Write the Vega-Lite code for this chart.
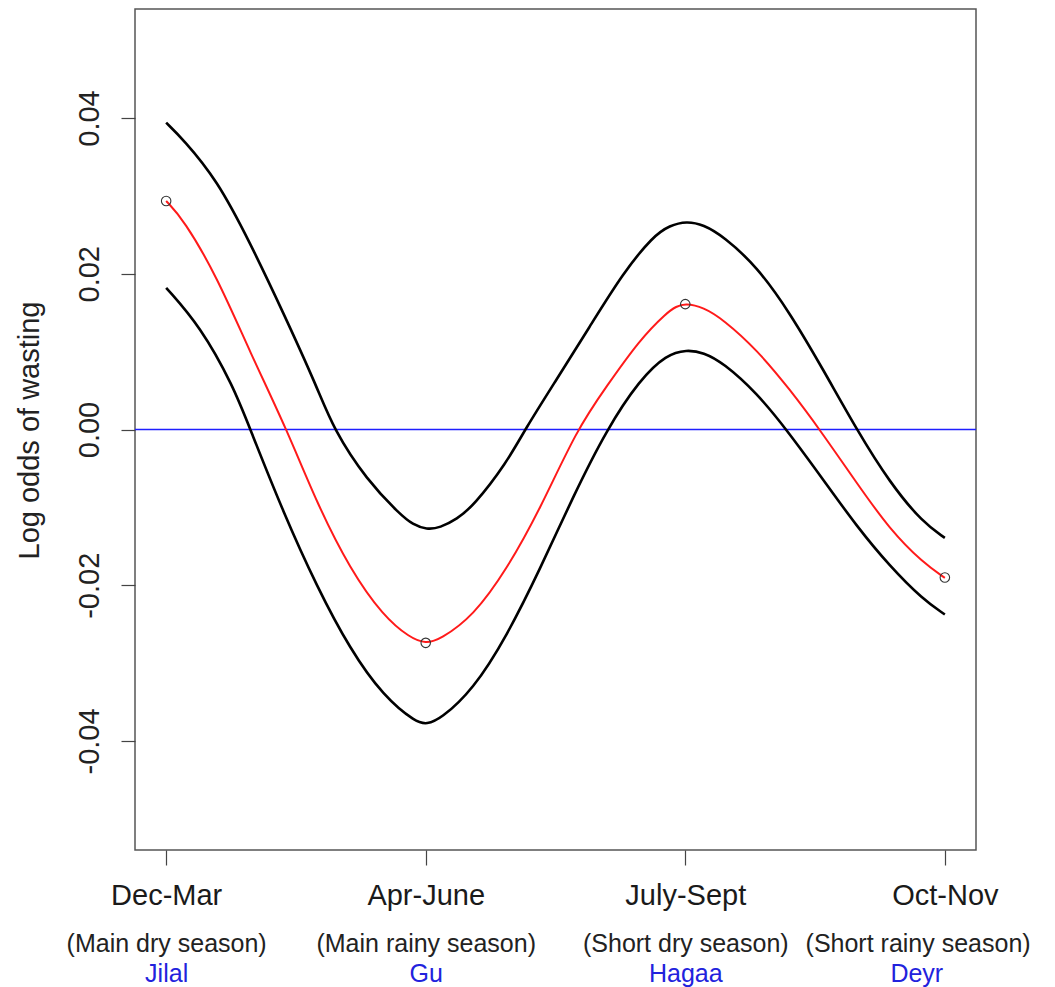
{
  "$schema": "https://vega.github.io/schema/vega-lite/v6.json",
  "width": 841,
  "height": 841,
  "autosize": {"type": "none"},
  "padding": {"left": 135, "top": 9, "right": 79, "bottom": 137},
  "background": "white",
  "config": {"view": {"stroke": "#555", "strokeWidth": 1.5}, "font": "Liberation Sans"},
  "datasets": {
    "curves": [
      {"x": 1.000, "v": 0.0394, "band": "upper"},
      {"x": 1.066, "v": 0.03725, "band": "upper"},
      {"x": 1.195, "v": 0.03211, "band": "upper"},
      {"x": 1.323, "v": 0.02402, "band": "upper"},
      {"x": 1.451, "v": 0.01503, "band": "upper"},
      {"x": 1.580, "v": 0.00556, "band": "upper"},
      {"x": 1.645, "v": 0.0, "band": "upper"},
      {"x": 1.773, "v": -0.0065, "band": "upper"},
      {"x": 1.901, "v": -0.0109, "band": "upper"},
      {"x": 1.950, "v": -0.0122, "band": "upper"},
      {"x": 2.004, "v": -0.01285, "band": "upper"},
      {"x": 2.055, "v": -0.01262, "band": "upper"},
      {"x": 2.120, "v": -0.0115, "band": "upper"},
      {"x": 2.183, "v": -0.00985, "band": "upper"},
      {"x": 2.312, "v": -0.00428, "band": "upper"},
      {"x": 2.382, "v": 0.0, "band": "upper"},
      {"x": 2.504, "v": 0.00642, "band": "upper"},
      {"x": 2.633, "v": 0.01327, "band": "upper"},
      {"x": 2.761, "v": 0.02013, "band": "upper"},
      {"x": 2.876, "v": 0.02483, "band": "upper"},
      {"x": 2.940, "v": 0.0262, "band": "upper"},
      {"x": 3.005, "v": 0.02676, "band": "upper"},
      {"x": 3.070, "v": 0.0263, "band": "upper"},
      {"x": 3.146, "v": 0.02483, "band": "upper"},
      {"x": 3.275, "v": 0.02098, "band": "upper"},
      {"x": 3.403, "v": 0.01499, "band": "upper"},
      {"x": 3.531, "v": 0.00771, "band": "upper"},
      {"x": 3.660, "v": 0.0, "band": "upper"},
      {"x": 3.788, "v": -0.00685, "band": "upper"},
      {"x": 3.916, "v": -0.01199, "band": "upper"},
      {"x": 4.000, "v": -0.01391, "band": "upper"},
      {"x": 1.000, "v": 0.0182, "band": "lower"},
      {"x": 1.131, "v": 0.01327, "band": "lower"},
      {"x": 1.259, "v": 0.00556, "band": "lower"},
      {"x": 1.324, "v": 0.0, "band": "lower"},
      {"x": 1.452, "v": -0.0107, "band": "lower"},
      {"x": 1.580, "v": -0.02013, "band": "lower"},
      {"x": 1.709, "v": -0.02826, "band": "lower"},
      {"x": 1.837, "v": -0.03426, "band": "lower"},
      {"x": 1.965, "v": -0.03768, "band": "lower"},
      {"x": 2.004, "v": -0.03782, "band": "lower"},
      {"x": 2.055, "v": -0.03725, "band": "lower"},
      {"x": 2.183, "v": -0.0334, "band": "lower"},
      {"x": 2.312, "v": -0.02655, "band": "lower"},
      {"x": 2.440, "v": -0.01798, "band": "lower"},
      {"x": 2.568, "v": -0.00857, "band": "lower"},
      {"x": 2.697, "v": 0.0, "band": "lower"},
      {"x": 2.825, "v": 0.00642, "band": "lower"},
      {"x": 2.928, "v": 0.00963, "band": "lower"},
      {"x": 3.005, "v": 0.01025, "band": "lower"},
      {"x": 3.070, "v": 0.0099, "band": "lower"},
      {"x": 3.146, "v": 0.00857, "band": "lower"},
      {"x": 3.275, "v": 0.00471, "band": "lower"},
      {"x": 3.390, "v": 0.0, "band": "lower"},
      {"x": 3.531, "v": -0.00642, "band": "lower"},
      {"x": 3.660, "v": -0.01242, "band": "lower"},
      {"x": 3.788, "v": -0.01756, "band": "lower"},
      {"x": 3.916, "v": -0.02184, "band": "lower"},
      {"x": 4.000, "v": -0.02376, "band": "lower"},
      {"x": 1.000, "v": 0.02935, "band": "est"},
      {"x": 1.067, "v": 0.02697, "band": "est"},
      {"x": 1.195, "v": 0.01969, "band": "est"},
      {"x": 1.324, "v": 0.00985, "band": "est"},
      {"x": 1.465, "v": 0.0, "band": "est"},
      {"x": 1.580, "v": -0.00942, "band": "est"},
      {"x": 1.709, "v": -0.01798, "band": "est"},
      {"x": 1.837, "v": -0.02398, "band": "est"},
      {"x": 1.940, "v": -0.02676, "band": "est"},
      {"x": 2.000, "v": -0.0275, "band": "est"},
      {"x": 2.055, "v": -0.02697, "band": "est"},
      {"x": 2.183, "v": -0.02398, "band": "est"},
      {"x": 2.312, "v": -0.01798, "band": "est"},
      {"x": 2.440, "v": -0.01028, "band": "est"},
      {"x": 2.582, "v": 0.0, "band": "est"},
      {"x": 2.697, "v": 0.00556, "band": "est"},
      {"x": 2.825, "v": 0.01156, "band": "est"},
      {"x": 2.928, "v": 0.01499, "band": "est"},
      {"x": 2.965, "v": 0.0158, "band": "est"},
      {"x": 3.000, "v": 0.0162, "band": "est"},
      {"x": 3.070, "v": 0.0157, "band": "est"},
      {"x": 3.146, "v": 0.01413, "band": "est"},
      {"x": 3.275, "v": 0.01028, "band": "est"},
      {"x": 3.403, "v": 0.00514, "band": "est"},
      {"x": 3.518, "v": 0.0, "band": "est"},
      {"x": 3.660, "v": -0.00685, "band": "est"},
      {"x": 3.788, "v": -0.01285, "band": "est"},
      {"x": 3.916, "v": -0.01712, "band": "est"},
      {"x": 4.000, "v": -0.01905, "band": "est"}
    ],
    "pts": [
      {"x": 1, "v": 0.02935},
      {"x": 2, "v": -0.0274},
      {"x": 3, "v": 0.0161},
      {"x": 4, "v": -0.0190}
    ],
    "ref": [{"v": 0}]
  },
  "resolve": {"axis": {"x": "independent", "y": "independent"}},
  "layer": [
    {
      "data": {"name": "ref"},
      "mark": {"type": "rule", "color": "#1f1fff", "strokeWidth": 1.5},
      "encoding": {
        "y": {
          "field": "v", "type": "quantitative",
          "scale": {"domain": [-0.054, 0.054], "nice": false, "zero": false},
          "axis": {
            "orient": "left",
            "values": [-0.04, -0.02, 0, 0.02, 0.04],
            "labelExpr": "datum.value < 0 ? '-' + format(-datum.value, '.2f') : format(datum.value, '.2f')",
            "labelAngle": 270, "labelAlign": "center", "labelBaseline": "middle",
            "labelPadding": 32, "labelFontSize": 29, "labelColor": "#222", "labelFont": "Liberation Sans",
            "tickSize": 14, "tickColor": "#444", "tickWidth": 1.2,
            "domain": false, "grid": false,
            "labelFlush": false, "labelOverlap": false, "labelBound": false,
            "title": "Log odds of wasting", "titleFontSize": 29, "titleFontWeight": "normal",
            "titleColor": "#222", "titleFont": "Liberation Sans", "titleAngle": 270,
            "titleAlign": "center", "titleBaseline": "alphabetic", "titleX": -97, "titleY": 421
          }
        }
      }
    },
    {
      "data": {"name": "curves"},
      "transform": [{"filter": "datum.band !== 'est'"}],
      "mark": {"type": "line", "color": "black", "strokeWidth": 2.6, "interpolate": "basis"},
      "encoding": {
        "x": {
          "field": "x", "type": "quantitative",
          "scale": {"domain": [0.88, 4.12], "nice": false, "zero": false},
          "axis": {
            "orient": "bottom", "values": [1, 2, 3, 4],
            "labelExpr": "['Dec-Mar','Apr-June','July-Sept','Oct-Nov'][datum.value-1]",
            "labelFontSize": 29, "labelColor": "#1a1a1a", "labelFont": "Liberation Sans",
            "labelBaseline": "alphabetic", "labelAlign": "center", "labelAngle": 0,
            "labelPadding": 39, "tickSize": 15, "tickColor": "#444", "tickWidth": 1.2,
            "domain": false, "grid": false, "title": null, "labelLimit": 400,
            "labelFlush": false, "labelOverlap": false, "labelBound": false
          }
        },
        "y": {"field": "v", "type": "quantitative", "axis": null},
        "detail": {"field": "band"}
      }
    },
    {
      "data": {"name": "curves"},
      "transform": [{"filter": "datum.band === 'est'"}],
      "mark": {"type": "line", "color": "#ff1a1a", "strokeWidth": 2, "interpolate": "basis"},
      "encoding": {
        "x": {
          "field": "x", "type": "quantitative",
          "scale": {"domain": [0.88, 4.12], "nice": false, "zero": false},
          "axis": {
            "orient": "bottom", "values": [1, 2, 3, 3.895],
            "labelExpr": "datum.value < 1.5 ? '(Main dry season)' : datum.value < 2.5 ? '(Main rainy season)' : datum.value < 3.5 ? '(Short dry season)' : '(Short rainy season)'",
            "labelFontSize": 25, "labelColor": "#222", "labelFont": "Liberation Sans",
            "labelBaseline": "alphabetic", "labelAlign": "center", "labelAngle": 0,
            "labelPadding": 101, "ticks": false, "labelLimit": 400,
            "domain": false, "grid": false, "title": null,
            "labelFlush": false, "labelOverlap": false, "labelBound": false
          }
        },
        "y": {"field": "v", "type": "quantitative", "axis": null}
      }
    },
    {
      "data": {"name": "pts"},
      "mark": {"type": "point", "shape": "circle", "filled": false, "size": 90, "color": "#333", "strokeWidth": 1.1, "opacity": 1},
      "encoding": {
        "x": {
          "field": "x", "type": "quantitative",
          "scale": {"domain": [0.88, 4.12], "nice": false, "zero": false},
          "axis": {
            "orient": "bottom", "values": [1, 2, 3, 3.89],
            "labelExpr": "datum.value < 1.5 ? 'Jilal' : datum.value < 2.5 ? 'Gu' : datum.value < 3.5 ? 'Hagaa' : 'Deyr'",
            "labelFontSize": 25, "labelColor": "#2222dd", "labelFont": "Liberation Sans",
            "labelBaseline": "alphabetic", "labelAlign": "center", "labelAngle": 0,
            "labelPadding": 131, "ticks": false, "labelLimit": 400,
            "domain": false, "grid": false, "title": null,
            "labelFlush": false, "labelOverlap": false, "labelBound": false
          }
        },
        "y": {"field": "v", "type": "quantitative", "axis": null}
      }
    }
  ]
}
